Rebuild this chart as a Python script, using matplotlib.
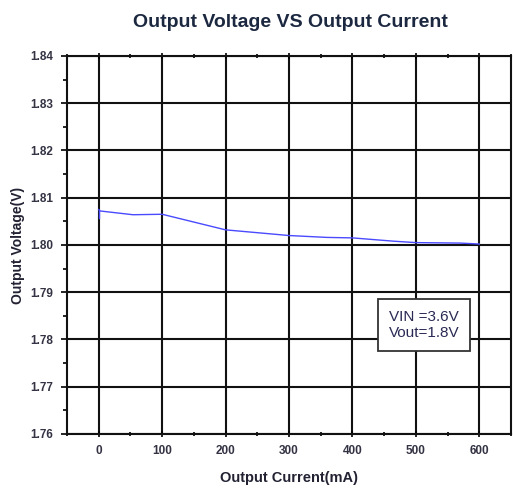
import matplotlib
matplotlib.use("Agg")
import matplotlib.pyplot as plt
from matplotlib.ticker import MultipleLocator

# Output voltage vs load current
current_ma = [0, 2, 54, 100, 200, 300, 360, 400, 465, 500, 570, 600]
voltage_v = [1.8075, 1.8072, 1.8064, 1.8065, 1.8032, 1.8020, 1.8016, 1.8015, 1.8008, 1.8005, 1.8004, 1.8002]

x_ticks = [0, 100, 200, 300, 400, 500, 600]
y_ticks = [1.76, 1.77, 1.78, 1.79, 1.80, 1.81, 1.82, 1.83, 1.84]

plt.rcParams['font.family'] = ['Liberation Sans', 'DejaVu Sans']

fig = plt.figure(figsize=(5.13, 4.88), dpi=100)
ax = fig.add_axes([0.1306, 0.1107, 0.8655, 0.7746])

ax.plot(current_ma, voltage_v, color='#4a4aff', lw=1.0)
# small spike at the first sample
ax.plot([current_ma[0], current_ma[0]], [voltage_v[0], 1.8057], color='#4a4aff', lw=1.0)

ax.set_xlim(-50, 650)
ax.set_ylim(1.76, 1.84)
ax.set_xticks(x_ticks)
ax.set_yticks(y_ticks)
ax.xaxis.set_minor_locator(MultipleLocator(50))
ax.yaxis.set_minor_locator(MultipleLocator(0.005))
ax.set_xticklabels([str(v) for v in x_ticks])
ax.set_yticklabels([f"{v:.2f}" for v in y_ticks])

ax.grid(True, which='major', color='#111111', lw=1.5)
for s in ax.spines.values():
    s.set_linewidth(1.5)
    s.set_color('#111111')

ax.tick_params(axis='both', which='major', direction='out', length=4, width=1.2,
               labelsize=8.5, labelcolor='#333344', pad=6)
ax.tick_params(axis='both', which='minor', direction='out', length=3, width=1.2)
ax.tick_params(axis='x', which='both', top=True, direction='inout')
for lab in ax.get_xticklabels() + ax.get_yticklabels():
    lab.set_fontweight('bold')

ax.set_xlabel('Output Current(mA)', fontsize=10.5, fontweight='bold', color='#222233', labelpad=10)
ax.set_ylabel('Output Voltage(V)', fontsize=10, fontweight='bold', color='#222233', labelpad=4)
fig.text(0.567, 0.953, 'Output Voltage VS Output Current', ha='center', va='center',
         fontsize=14, fontweight='bold', color='#1c2840')

ax.text(0.804, 0.288, 'VIN =3.6V\nVout=1.8V', transform=ax.transAxes,
        ha='center', va='center', fontsize=11, color='#2a2a55', linespacing=1.2,
        bbox=dict(boxstyle='square,pad=0.7', fc='white', ec='#333333', lw=1.3))

fig.savefig('out.png', dpi=100)
